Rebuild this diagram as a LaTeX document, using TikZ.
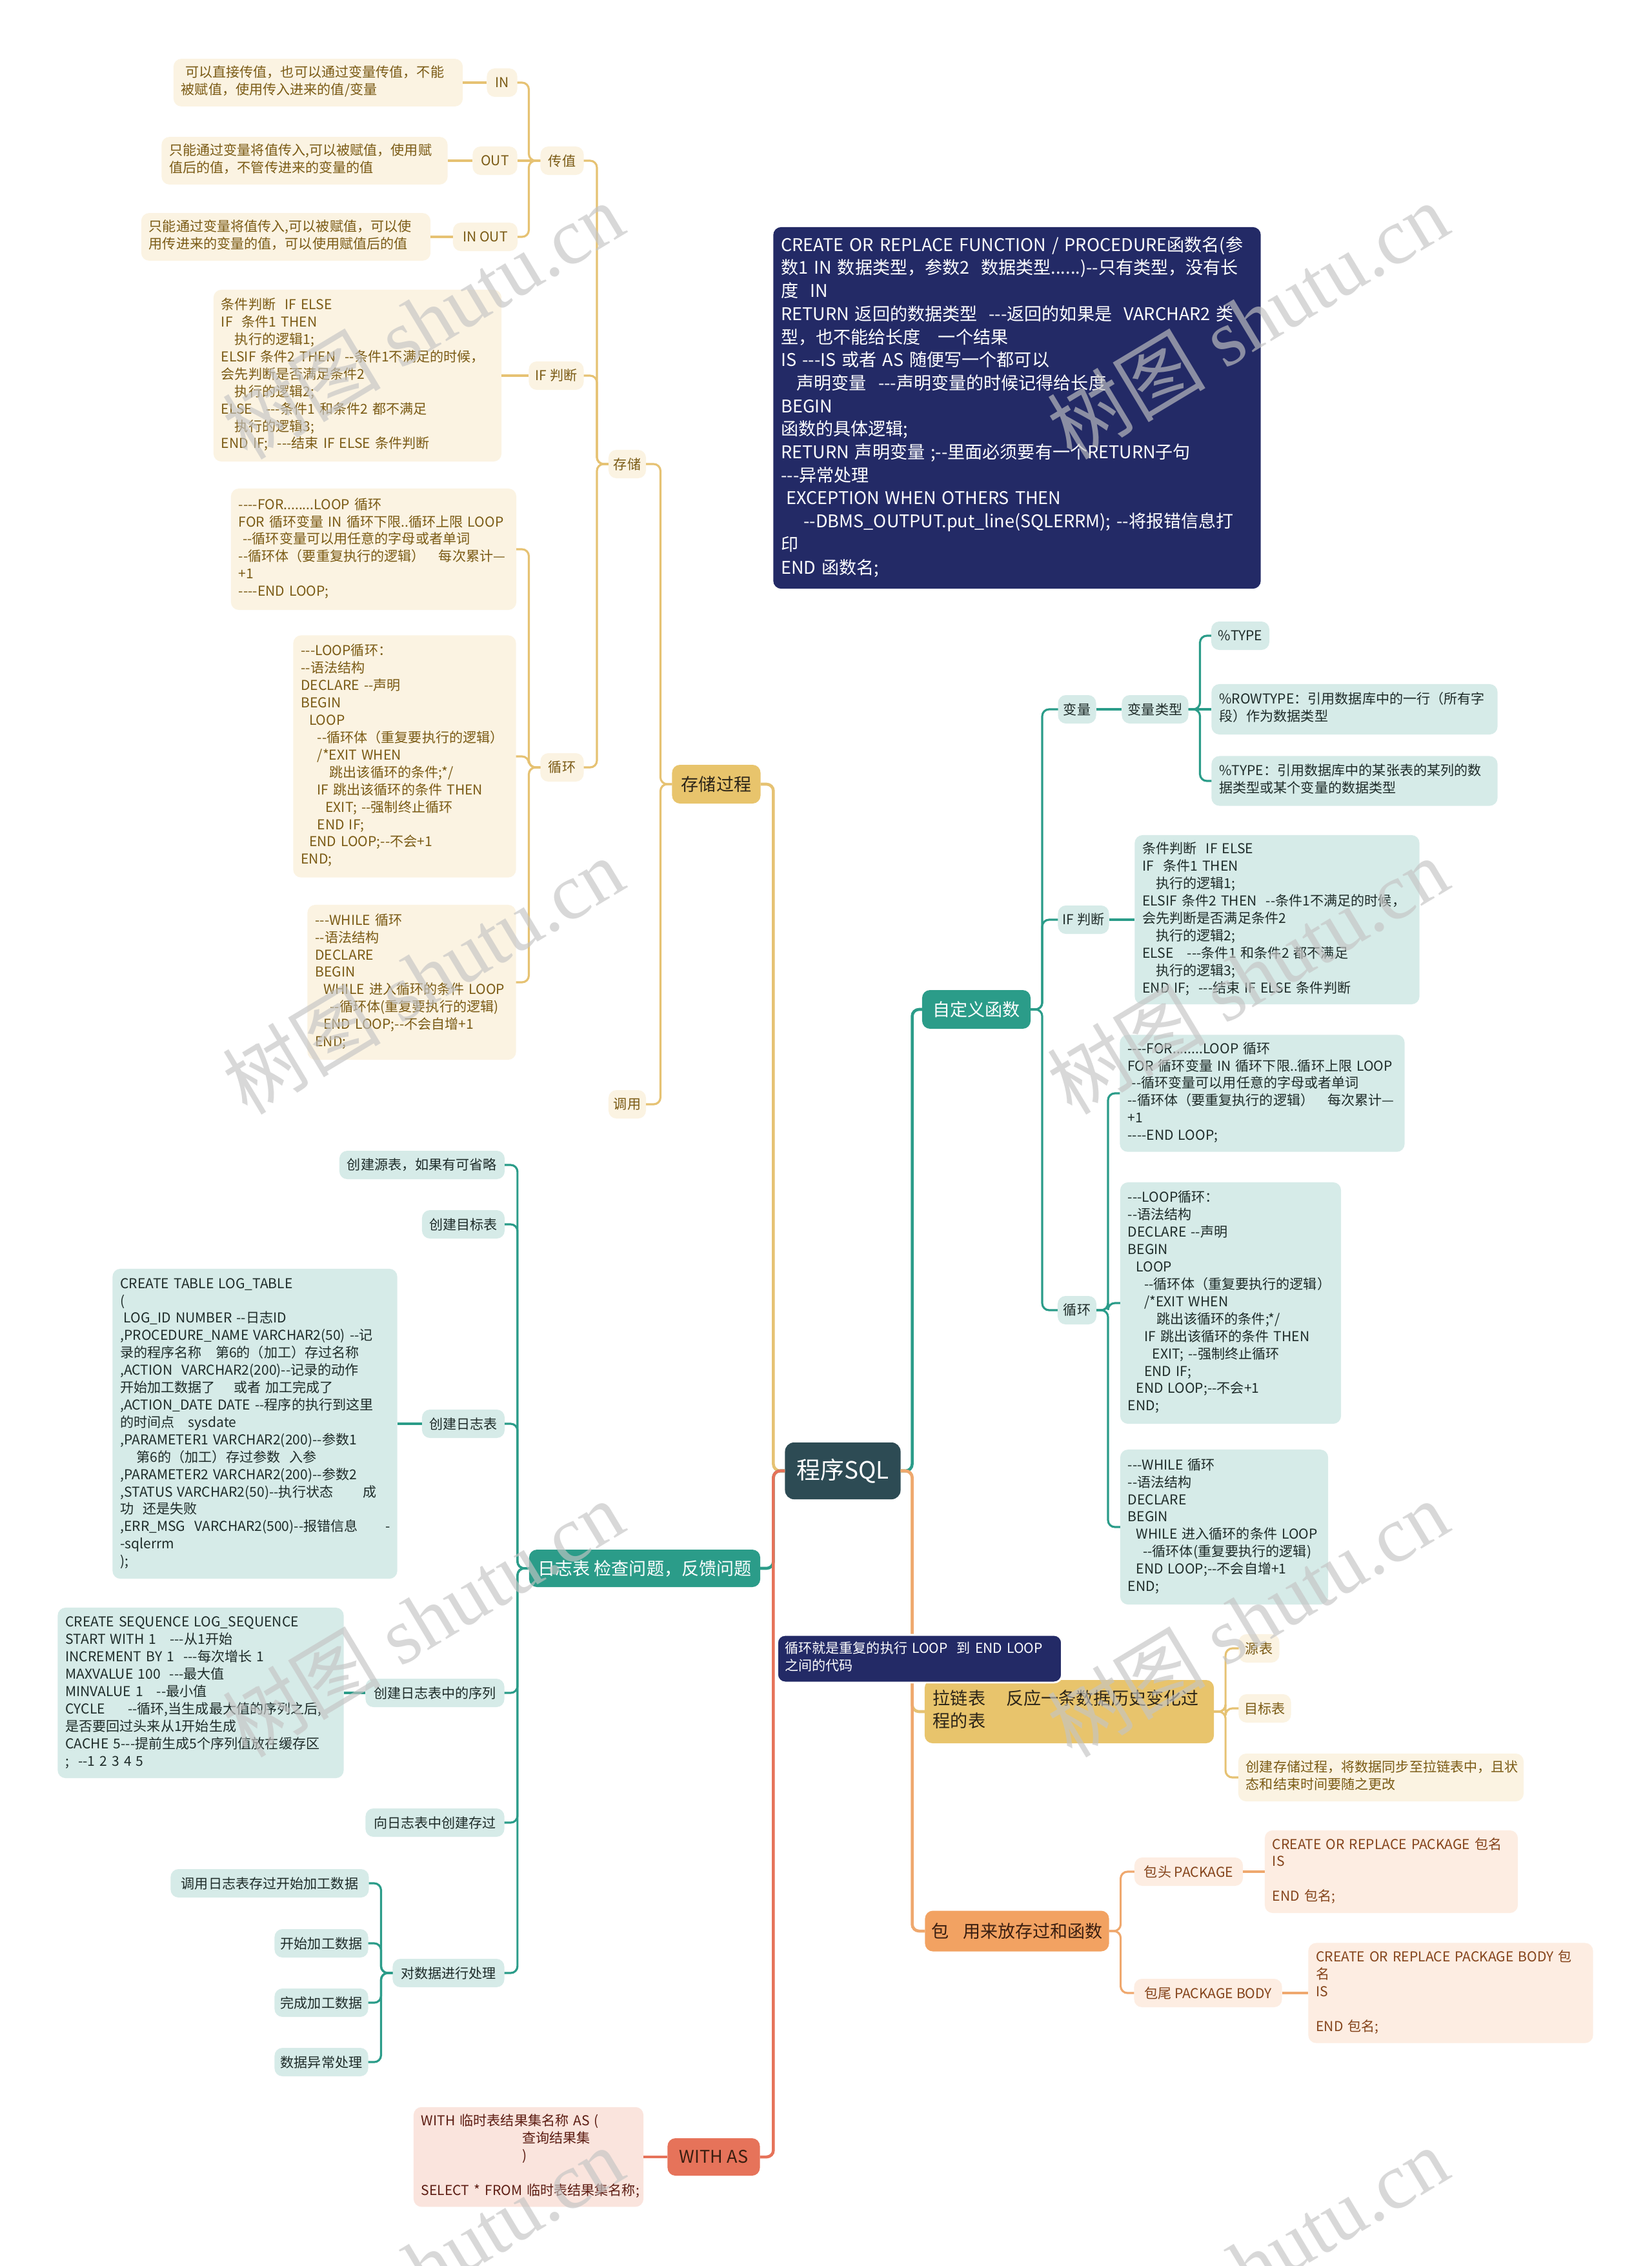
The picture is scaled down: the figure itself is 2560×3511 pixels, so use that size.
\documentclass[tikz,border=0pt]{standalone}
\usepackage{fontspec}
\newfontfamily\sqlfont{Noto Sans CJK SC}
\newfontfamily\sqlmarkfont{Liberation Serif}
\definecolor{sqlRoot}{HTML}{2D4B54}
\definecolor{sqlInk}{HTML}{2B2418}
\definecolor{sqlGold}{HTML}{E8C46C}
\definecolor{sqlGoldLine}{HTML}{E6C273}
\definecolor{sqlGoldPale}{HTML}{FBF3E2}
\definecolor{sqlGoldText}{HTML}{7A5A14}
\definecolor{sqlTeal}{HTML}{2B9C89}
\definecolor{sqlTealPale}{HTML}{D6EBE8}
\definecolor{sqlTealText}{HTML}{1E2B29}
\definecolor{sqlNavy}{HTML}{232A66}
\definecolor{sqlOrange}{HTML}{F2A262}
\definecolor{sqlOrangeLine}{HTML}{EFA86E}
\definecolor{sqlOrangePale}{HTML}{FDEDE2}
\definecolor{sqlOrangeText}{HTML}{84431A}
\definecolor{sqlRed}{HTML}{E6735A}
\definecolor{sqlRedPale}{HTML}{FAE4DD}
\definecolor{sqlRedText}{HTML}{5C1C12}
\definecolor{sqlBrown}{HTML}{3A1E10}
\definecolor{sqlMark}{HTML}{C4C4C4}
\newcommand{\sqlsmall}{\sqlfont\fontsize{6}{7.65}\selectfont}
\newcommand{\sqlcode}{\sqlfont\fontsize{7.7}{10.15}\selectfont}
\newcommand{\sqlmain}{\sqlfont\fontsize{7.7}{10}\selectfont}
\newcommand{\sqlbig}{\sqlfont\fontsize{10.5}{12}\selectfont}
\newcommand{\sqlind}[1]{\hspace*{#1em}}
\newcommand{\SqlLines}[1]{\begin{tabular}{@{}l@{}}#1\end{tabular}}
\newcommand{\SqlLinkL}[3]{\draw[#1] (#2.west) -- ++(-18,0) |- (#3.east);}
\newcommand{\SqlLinkR}[3]{\draw[#1] (#2.east) -- ++(18,0) |- (#3.west);}
\newcommand{\SqlLinkS}[3]{\draw[#1] (#2.west) -- (#3.east);}
\newcommand{\SqlLinkT}[3]{\draw[#1] (#2.east) -- (#3.west);}
\newcommand{\SqlIfCode}{条件判断\ \ IF ELSE\\
IF\ \ 条件1 THEN\\
\sqlind{1}执行的逻辑1;\\
ELSIF 条件2 THEN\ \ --条件1不满足的时候，\\
会先判断是否满足条件2\\
\sqlind{1}执行的逻辑2;\\
ELSE\ \ \ ---条件1 和条件2 都不满足\\
\sqlind{1}执行的逻辑3;\\
END IF;\ \ ---结束 IF ELSE 条件判断}
\newcommand{\SqlForCode}{----FOR........LOOP 循环\\
FOR 循环变量 IN 循环下限..循环上限 LOOP\\
\sqlind{0.3}--循环变量可以用任意的字母或者单词\\
--循环体（要重复执行的逻辑）\ \ \ 每次累计—\\
+1\\
----END LOOP;}
\newcommand{\SqlLoopCode}{---LOOP循环：\\
--语法结构\\
DECLARE --声明\\
BEGIN\\
\sqlind{0.6}LOOP\\
\sqlind{1.2}--循环体（重复要执行的逻辑）\\
\sqlind{1.2}/*EXIT WHEN\\
\sqlind{2.1}跳出该循环的条件;*/\\
\sqlind{1.2}IF 跳出该循环的条件 THEN\\
\sqlind{1.8}EXIT; --强制终止循环\\
\sqlind{1.2}END IF;\\
\sqlind{0.6}END LOOP;--不会+1\\
END;}
\newcommand{\SqlWhileCode}{---WHILE 循环\\
--语法结构\\
DECLARE\\
BEGIN\\
\sqlind{0.6}WHILE 进入循环的条件 LOOP\\
\sqlind{1.1}--循环体(重复要执行的逻辑)\\
\sqlind{0.6}END LOOP;--不会自增+1\\
END;}
\tikzset{
  sql map/.style={x=0.01cm, y=-0.01cm,
    every node/.style={font=\sqlsmall, inner sep=0pt, outer sep=0pt,
      rounded corners=3.5pt}},
  sql tag/.style={minimum height=0.44cm, align=center},
  sql box/.style={align=left, inner xsep=0.12cm, inner ysep=0.1cm},
  sql main/.style={font=\sqlmain, minimum height=0.6cm, align=center},
  gold tag/.style={sql tag, fill=sqlGoldPale, text=sqlGoldText},
  gold box/.style={sql box, fill=sqlGoldPale, text=sqlGoldText},
  gold main/.style={sql main, fill=sqlGold, text=sqlInk},
  gold line/.style={draw=sqlGoldLine, line width=0.9pt, rounded corners=3pt},
  gold trunk/.style={gold line, line width=1.3pt},
  teal tag/.style={sql tag, fill=sqlTealPale, text=sqlTealText},
  teal box/.style={sql box, fill=sqlTealPale, text=sqlTealText},
  teal main/.style={sql main, fill=sqlTeal, text=white},
  teal line/.style={draw=sqlTeal, line width=0.9pt, rounded corners=3pt},
  teal trunk/.style={teal line, line width=1.3pt},
  orange tag/.style={sql tag, fill=sqlOrangePale, text=sqlOrangeText},
  orange box/.style={sql box, fill=sqlOrangePale, text=sqlOrangeText},
  orange main/.style={sql main, fill=sqlOrange, text=sqlBrown},
  orange line/.style={draw=sqlOrangeLine, line width=0.9pt, rounded corners=3pt},
  orange trunk/.style={orange line, line width=1.3pt},
  red box/.style={sql box, fill=sqlRedPale, text=sqlRedText},
  red main/.style={sql main, fill=sqlRed, text=sqlBrown},
  red line/.style={draw=sqlRed, line width=0.9pt, rounded corners=3pt},
  red trunk/.style={red line, line width=1.3pt},
  navy box/.style={sql box, fill=sqlNavy, text=white},
  sql mark/.style={font=\sqlmarkfont\fontsize{35}{35}\selectfont, text=sqlMark,
    text opacity=0.65, rotate=31}
}
\begin{document}
\begin{tikzpicture}[sql map]
    \useasboundingbox[fill=white] (0,0) rectangle (2560,3511);
    \node[fill=sqlRoot, text=white, font=\sqlbig, minimum width=1.79cm, minimum height=0.88cm, rounded corners=4pt] (root) at (1306,2279) {程序SQL};
    \node[gold main, minimum width=1.37cm] (proc) at (1110,1215) {存储过程};
    \node[gold tag, minimum width=0.58cm] (store) at (972,719) {存储};
    \node[gold tag, minimum width=0.58cm] (call) at (972,1711) {调用};
    \node[gold tag, minimum width=0.67cm] (pass) at (871,249) {传值};
    \node[gold tag, minimum width=0.85cm] (ifL) at (862,582) {IF 判断};
    \node[gold tag, minimum width=0.67cm] (loopL) at (871,1189) {循环};
    \node[gold tag, minimum width=0.47cm] (tagIn) at (778,128) {IN};
    \node[gold tag, minimum width=0.69cm] (tagOut) at (767,249) {OUT};
    \node[gold tag, minimum width=1.00cm] (tagInOut) at (752,367) {IN OUT};
    \node[gold box, text width=4.24cm, minimum height=0.70cm] (inNote) at (493,128) {\SqlLines{\sqlind{0.3}可以直接传值，也可以通过变量传值，不能\\被赋值，使用传入进来的值/变量}};
    \node[gold box, text width=4.19cm, minimum height=0.71cm] (outNote) at (472,249) {\SqlLines{只能通过变量将值传入,可以被赋值，使用赋\\值后的值，不管传进来的变量的值}};
    \node[gold box, text width=4.24cm, minimum height=0.72cm] (inoutNote) at (443,367) {\SqlLines{只能通过变量将值传入,可以被赋值，可以使\\用传进来的变量的值，可以使用赋值后的值}};
    \node[gold box, text width=4.22cm, minimum height=2.66cm] (ifNoteL) at (554,582) {\SqlLines{\SqlIfCode}};
    \node[gold box, text width=4.18cm, minimum height=1.88cm] (forNoteL) at (579,851) {\SqlLines{\SqlForCode}};
    \node[gold box, text width=3.21cm, minimum height=3.75cm] (loopNoteL) at (627,1172) {\SqlLines{\SqlLoopCode}};
    \node[gold box, text width=2.99cm, minimum height=2.40cm] (whileNoteL) at (638,1522) {\SqlLines{\SqlWhileCode}};
    \node[navy box, font=\sqlcode, text width=7.31cm, minimum height=5.60cm, inner ysep=0.12cm] (funcNote) at (1576,632) {\SqlLines{CREATE OR REPLACE FUNCTION / PROCEDURE函数名(参\\
数1 IN 数据类型，参数2\ \ 数据类型......)--只有类型，没有长\\
度\ \ IN\\
RETURN 返回的数据类型\ \ ---返回的如果是\ \ VARCHAR2 类\\
型，也不能给长度\ \ \ 一个结果\\
IS ---IS 或者 AS 随便写一个都可以\\
\sqlind{0.9}声明变量\ \ ---声明变量的时候记得给长度\\
BEGIN\\
函数的具体逻辑;\\
RETURN 声明变量 ;--里面必须要有一个RETURN子句\\
---异常处理\\
\sqlind{0.3}EXCEPTION WHEN OTHERS THEN\\
\sqlind{1.3}--DBMS\_OUTPUT.put\_line(SQLERRM); --将报错信息打\\
印\\
END 函数名;}};
    \node[teal main, minimum width=1.68cm] (func) at (1513,1564) {自定义函数};
    \node[teal tag, minimum width=0.59cm] (var) at (1669,1099) {变量};
    \node[teal tag, minimum width=1.03cm] (varType) at (1790,1099) {变量类型};
    \node[teal tag, minimum width=0.90cm] (pType) at (1922,985) {\%TYPE};
    \node[teal box, text width=4.19cm, minimum height=0.78cm] (pRow) at (2099,1099) {\SqlLines{\%ROWTYPE：引用数据库中的一行（所有字\\段）作为数据类型}};
    \node[teal box, text width=4.19cm, minimum height=0.77cm] (pCol) at (2099,1210) {\SqlLines{\%TYPE：引用数据库中的某张表的某列的数\\据类型或某个变量的数据类型}};
    \node[teal tag, minimum width=0.79cm] (ifR) at (1679,1425) {IF 判断};
    \node[teal box, text width=4.17cm, minimum height=2.62cm] (ifNoteR) at (1979,1425) {\SqlLines{\SqlIfCode}};
    \node[teal tag, minimum width=0.60cm] (loopR) at (1669,2030) {循环};
    \node[teal box, text width=4.17cm, minimum height=1.81cm] (forNoteR) at (1956,1694) {\SqlLines{\SqlForCode}};
    \node[teal box, text width=3.18cm, minimum height=3.74cm] (loopNoteR) at (1907,2019) {\SqlLines{\SqlLoopCode}};
    \node[teal box, text width=2.98cm, minimum height=2.40cm] (whileNoteR) at (1897,2366) {\SqlLines{\SqlWhileCode}};
    \node[teal main, minimum width=3.58cm, minimum height=0.58cm] (logMain) at (999,2430) {日志表 检查问题，反馈问题};
    \node[teal tag, minimum width=2.56cm] (mkSrc) at (654,1805) {创建源表，如果有可省略};
    \node[teal tag, minimum width=1.28cm] (mkDst) at (718,1897) {创建目标表};
    \node[teal tag, minimum width=1.28cm] (mkLog) at (718,2206) {创建日志表};
    \node[teal tag, minimum width=2.15cm] (mkSeq) at (674,2623) {创建日志表中的序列};
    \node[teal tag, minimum width=2.15cm] (mkProc) at (674,2824) {向日志表中创建存过};
    \node[teal tag, minimum width=1.73cm] (doData) at (695,3057) {对数据进行处理};
    \node[teal tag, minimum width=3.07cm] (callStart) at (418,2918) {调用日志表存过开始加工数据};
    \node[teal tag, minimum width=1.45cm] (dataStart) at (498,3011) {开始加工数据};
    \node[teal tag, minimum width=1.45cm] (dataDone) at (498,3103) {完成加工数据};
    \node[teal tag, minimum width=1.45cm] (dataFail) at (498,3195) {数据异常处理};
    \node[teal box, text width=4.17cm, minimum height=4.80cm] (logNote) at (395,2206) {\SqlLines{CREATE TABLE LOG\_TABLE\\
(\\
\sqlind{0.25}LOG\_ID NUMBER --日志ID\\
,PROCEDURE\_NAME VARCHAR2(50) --记\\
录的程序名称\ \ \ 第6的（加工）存过名称\\
,ACTION\ \ VARCHAR2(200)--记录的动作\\
开始加工数据了\ \ \ \ 或者 加工完成了\\
,ACTION\_DATE DATE --程序的执行到这里\\
的时间点\ \ \ sysdate\\
,PARAMETER1 VARCHAR2(200)--参数1\\
\sqlind{1.2}第6的（加工）存过参数\ \ 入参\\
,PARAMETER2 VARCHAR2(200)--参数2\\
,STATUS VARCHAR2(50)--执行状态\hspace{2.2em}成\\
功\ \ 还是失败\\
,ERR\_MSG\ \ VARCHAR2(500)--报错信息\hspace{2em}-\\
-sqlerrm\\
);}};
    \node[teal box, text width=4.19cm, minimum height=2.64cm] (seqNote) at (311,2623) {\SqlLines{CREATE SEQUENCE LOG\_SEQUENCE\\
START WITH 1\ \ \ ---从1开始\\
INCREMENT BY 1\ \ ---每次增长 1\\
MAXVALUE 100\ \ ---最大值\\
MINVALUE 1\ \ \ --最小值\\
CYCLE\ \ \ \ \ --循环,当生成最大值的序列之后,\\
是否要回过头来从1开始生成\\
CACHE 5---提前生成5个序列值放在缓存区\\
;\ \ --1 2 3 4 5}};
    \node[gold main, align=left, text width=4.22cm, inner xsep=0.13cm, minimum height=0.98cm] (chain) at (1657,2652) {\SqlLines{拉链表\hspace{1.2em}反应一条数据历史变化过\\程的表}};
    \node[gold tag, minimum width=0.63cm] (chainSrc) at (1951,2554) {源表};
    \node[gold tag, minimum width=0.81cm] (chainDst) at (1960,2647) {目标表};
    \node[gold box, text width=4.18cm, minimum height=0.74cm] (chainNote) at (2140,2754) {\SqlLines{创建存储过程，将数据同步至拉链表中，且状\\态和结束时间要随之更改}};
    \node[orange main, minimum width=2.85cm, minimum height=0.63cm] (pkg) at (1576,2992) {包\hspace{0.8em}用来放存过和函数};
    \node[orange tag, minimum width=1.68cm] (pkgHead) at (1842,2900) {包头 PACKAGE};
    \node[orange tag, minimum width=2.29cm] (pkgBody) at (1872,3088) {包尾 PACKAGE BODY};
    \node[orange box, text width=3.68cm, minimum height=1.28cm] (headNote) at (2156,2900) {\SqlLines{CREATE OR REPLACE PACKAGE 包名\\IS\\ \\END 包名;}};
    \node[orange box, text width=4.17cm, minimum height=1.55cm] (bodyNote) at (2248,3088) {\SqlLines{CREATE OR REPLACE PACKAGE BODY 包\\名\\IS\\ \\END 包名;}};
    \node[red main, minimum width=1.43cm, minimum height=0.58cm] (withMain) at (1106,3342) {WITH AS};
    \node[red box, text width=3.32cm, minimum height=1.48cm] (withNote) at (819,3342) {\SqlLines{WITH 临时表结果集名称 AS (\\\sqlind{7.4}查询结果集\\\sqlind{7.4})\\ \\SELECT * FROM 临时表结果集名称;}};
    \SqlLinkL{gold trunk}{root}{proc}
    \SqlLinkL{teal trunk}{root}{logMain}
    \SqlLinkL{red trunk}{root}{withMain}
    \SqlLinkR{teal trunk}{root}{func}
    \SqlLinkR{gold trunk}{root}{chain}
    \SqlLinkR{orange trunk}{root}{pkg}
    \SqlLinkL{gold line}{proc}{store}
    \SqlLinkL{gold line}{proc}{call}
    \SqlLinkL{gold line}{store}{pass}
    \SqlLinkL{gold line}{store}{ifL}
    \SqlLinkL{gold line}{store}{loopL}
    \SqlLinkL{gold line}{pass}{tagIn}
    \SqlLinkS{gold line}{pass}{tagOut}
    \SqlLinkL{gold line}{pass}{tagInOut}
    \SqlLinkS{gold line}{tagIn}{inNote}
    \SqlLinkS{gold line}{tagOut}{outNote}
    \SqlLinkS{gold line}{tagInOut}{inoutNote}
    \SqlLinkS{gold line}{ifL}{ifNoteL}
    \SqlLinkL{gold line}{loopL}{forNoteL}
    \SqlLinkL{gold line}{loopL}{loopNoteL}
    \SqlLinkL{gold line}{loopL}{whileNoteL}
    \SqlLinkR{teal line}{func}{var}
    \SqlLinkR{teal line}{func}{ifR}
    \SqlLinkR{teal line}{func}{loopR}
    \SqlLinkT{teal line}{var}{varType}
    \SqlLinkR{teal line}{varType}{pType}
    \SqlLinkT{teal line}{varType}{pRow}
    \SqlLinkR{teal line}{varType}{pCol}
    \SqlLinkT{teal line}{ifR}{ifNoteR}
    \SqlLinkR{teal line}{loopR}{forNoteR}
    \SqlLinkR{teal line}{loopR}{loopNoteR}
    \SqlLinkR{teal line}{loopR}{whileNoteR}
    \SqlLinkL{teal line}{logMain}{mkSrc}
    \SqlLinkL{teal line}{logMain}{mkDst}
    \SqlLinkL{teal line}{logMain}{mkLog}
    \SqlLinkL{teal line}{logMain}{mkSeq}
    \SqlLinkL{teal line}{logMain}{mkProc}
    \SqlLinkL{teal line}{logMain}{doData}
    \SqlLinkS{teal line}{mkLog}{logNote}
    \SqlLinkS{teal line}{mkSeq}{seqNote}
    \SqlLinkL{teal line}{doData}{callStart}
    \SqlLinkL{teal line}{doData}{dataStart}
    \SqlLinkL{teal line}{doData}{dataDone}
    \SqlLinkL{teal line}{doData}{dataFail}
    \SqlLinkR{gold line}{chain}{chainSrc}
    \SqlLinkR{gold line}{chain}{chainDst}
    \SqlLinkR{gold line}{chain}{chainNote}
    \SqlLinkR{orange line}{pkg}{pkgHead}
    \SqlLinkR{orange line}{pkg}{pkgBody}
    \SqlLinkT{orange line}{pkgHead}{headNote}
    \SqlLinkT{orange line}{pkgBody}{bodyNote}
    \SqlLinkS{red line}{withMain}{withNote}
    \node[navy box, draw=white, line width=0.8pt, text width=4.17cm, minimum height=0.65cm] (loopTip) at (1425,2570) {\SqlLines{循环就是重复的执行 LOOP\ \ 到 END LOOP\\之间的代码}};
    \node[sql mark] (mark1) at (655,497) {{\sqlfont 树图} shutu.cn};
    \node[sql mark] (mark2) at (1933,497) {{\sqlfont 树图} shutu.cn};
    \node[sql mark] (mark3) at (655,1512) {{\sqlfont 树图} shutu.cn};
    \node[sql mark] (mark4) at (1933,1512) {{\sqlfont 树图} shutu.cn};
    \node[sql mark] (mark5) at (655,2508) {{\sqlfont 树图} shutu.cn};
    \node[sql mark] (mark6) at (1933,2508) {{\sqlfont 树图} shutu.cn};
    \node[sql mark] (mark7) at (655,3510) {{\sqlfont 树图} shutu.cn};
    \node[sql mark] (mark8) at (1933,3510) {{\sqlfont 树图} shutu.cn};
\end{tikzpicture}
\end{document}
